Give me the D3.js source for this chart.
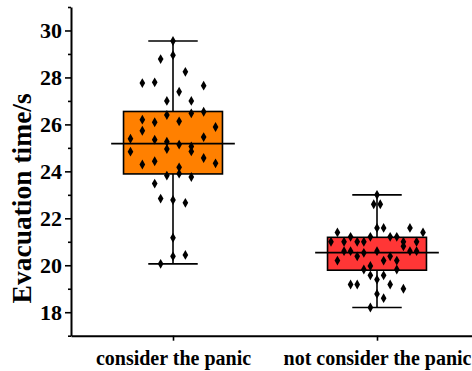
<!DOCTYPE html>
<html>
<head>
<meta charset="utf-8">
<script src="https://cdn.jsdelivr.net/npm/d3@7"></script>
<style>
body { margin: 0; background: #fff; }
</style>
</head>
<body>
<div id="chart"></div>
<script>
var categories = ["consider the panic", "not consider the panic"];
var boxColors = ["#FF8000", "#FF3636"];
var whiskerLow = [20.06, 18.2];
var q1 = [23.89, 19.79];
var medians = [25.18, 20.54];
var q3 = [26.55, 21.19];
var whiskerHigh = [29.55, 23.0];

// raw points, jitter = horizontal offset as a fraction of the box width
var considerValues = [29.55, 28.95, 28.78, 28.24, 27.76, 27.79, 27.65, 27.39, 27.0, 27.0,
	26.47, 26.54, 26.40, 26.20, 26.09, 26.13, 25.89, 25.73, 25.39, 25.35,
	25.46, 25.26, 25.14, 25.06, 24.85, 24.84, 24.95, 24.29, 24.43, 24.17,
	24.57, 24.34, 23.82, 23.90, 23.76, 23.48, 22.84, 22.78, 22.66, 21.17,
	20.38, 20.44, 20.06];
var considerJitter = [0, 0, -0.125, 0.125, -0.31, -0.185, 0.31, 0.062, -0.062, 0.185,
	0.185, 0.31, -0.062, -0.31, -0.185, 0.062, 0.43, -0.31, -0.43, -0.185,
	0.31, -0.062, 0.062, 0.185, 0.185, -0.43, -0.062, -0.31, -0.185, 0.062,
	0.31, 0.43, -0.062, 0.062, 0.185, -0.185, -0.125, 0, 0.125, 0,
	0, 0.125, -0.125];
var notConsiderValues = [23.0, 22.6, 22.6, 21.59, 21.59, 21.59, 21.40, 21.40, 21.21, 21.21,
	21.21, 21.21, 21.0, 21.0, 21.0, 21.0, 21.0, 21.0, 20.81, 20.6,
	20.6, 20.6, 20.6, 20.6, 20.53, 20.38, 20.38, 20.2, 20.2, 20.2,
	19.97, 19.82, 19.82, 19.57, 19.57, 19.39, 19.18, 19.18, 19.18, 19.0,
	18.78, 18.6, 18.2];
var notConsiderJitter = [0, -0.033, 0.033, 0, 0.067, 0.333, -0.4, 0.465, -0.267, -0.067,
	0.133, 0.2, -0.465, -0.333, -0.2, -0.133, 0.267, 0.4, 0.267, -0.333,
	-0.267, 0, 0.333, 0.4, -0.133, -0.2, 0.133, -0.4, 0.067, 0.2,
	-0.067, -0.133, 0.2, -0.067, 0.067, 0, -0.267, -0.2, 0.133, 0.267,
	0, 0.067, -0.067];
var yMajorTicks = [18, 20, 22, 24, 26, 28, 30];
var yMinorTicks = [17, 19, 21, 23, 25, 27, 29, 31];
var yLabel = "Evacuation time/s";

var width = 472, height = 371;
var svg = d3.select("#chart")
	.append("svg")
	.attr("width", width)
	.attr("height", height);

var x = d3.scalePoint()
	.domain(categories)
	.range([71, 479])
	.padding(0.5);
var y = d3.scaleLinear()
	.domain([17, 31])
	.range([335.7, 7]);
var step = x.step();
var boxW = step * 0.485;

var groups = [
	{ cat: categories[0], values: considerValues, jitter: considerJitter },
	{ cat: categories[1], values: notConsiderValues, jitter: notConsiderJitter }
];

// axes
var font = "Liberation Serif";
var yMinor = svg.append("g")
	.attr("transform", "translate(71,0)")
	.call(d3.axisLeft(y).tickValues(yMinorTicks).tickSize(3).tickSizeOuter(0).tickFormat(""));
yMinor.select(".domain").remove();
var yAxis = svg.append("g")
	.attr("transform", "translate(71,0)")
	.call(d3.axisLeft(y).tickValues(yMajorTicks).tickSize(6).tickSizeOuter(0).tickPadding(3))
	.attr("font-family", font)
	.attr("font-weight", "bold")
	.attr("font-size", 22);
var xAxis = svg.append("g")
	.attr("transform", "translate(0,335.7)")
	.call(d3.axisBottom(x).tickSize(5).tickSizeOuter(0).tickPadding(10))
	.attr("font-family", font)
	.attr("font-weight", "bold")
	.attr("font-size", 20);
svg.selectAll(".domain").attr("stroke-width", 2);
svg.selectAll(".tick line").attr("stroke-width", 1.6);
svg.selectAll(".tick text").attr("fill", "#000");

svg.append("text")
	.attr("transform", "translate(31," + y(22.85) + ") rotate(-90)")
	.attr("text-anchor", "middle")
	.attr("font-family", font)
	.attr("font-weight", "bold")
	.attr("font-size", 27.5)
	.text(yLabel);

// boxes
var box = svg.append("g")
	.selectAll("g")
	.data(groups)
	.enter()
	.append("g");

box.append("line")
	.attr("x1", function(d) { return x(d.cat); })
	.attr("x2", function(d) { return x(d.cat); })
	.attr("y1", function(d, i) { return y(whiskerLow[i]); })
	.attr("y2", function(d, i) { return y(whiskerHigh[i]); })
	.attr("stroke", "#000")
	.attr("stroke-width", 1.6);
box.append("line")
	.attr("x1", function(d) { return x(d.cat) - boxW / 4; })
	.attr("x2", function(d) { return x(d.cat) + boxW / 4; })
	.attr("y1", function(d, i) { return y(whiskerHigh[i]); })
	.attr("y2", function(d, i) { return y(whiskerHigh[i]); })
	.attr("stroke", "#000")
	.attr("stroke-width", 1.6);
box.append("line")
	.attr("x1", function(d) { return x(d.cat) - boxW / 4; })
	.attr("x2", function(d) { return x(d.cat) + boxW / 4; })
	.attr("y1", function(d, i) { return y(whiskerLow[i]); })
	.attr("y2", function(d, i) { return y(whiskerLow[i]); })
	.attr("stroke", "#000")
	.attr("stroke-width", 1.6);
box.append("rect")
	.attr("x", function(d) { return x(d.cat) - boxW / 2; })
	.attr("y", function(d, i) { return y(q3[i]); })
	.attr("width", boxW)
	.attr("height", function(d, i) { return y(q1[i]) - y(q3[i]); })
	.attr("fill", function(d, i) { return boxColors[i]; })
	.attr("stroke", "#000")
	.attr("stroke-width", 1.6);
box.append("line")
	.attr("x1", function(d) { return x(d.cat) - boxW * 0.625; })
	.attr("x2", function(d) { return x(d.cat) + boxW * 0.625; })
	.attr("y1", function(d, i) { return y(medians[i]); })
	.attr("y2", function(d, i) { return y(medians[i]); })
	.attr("stroke", "#000")
	.attr("stroke-width", 1.6);

var diamond = d3.symbol().type(d3.symbolDiamond).size(28);
box.selectAll("path.pt")
	.data(function(d) { return d.values.map(function(v, k) { return { cat: d.cat, v: v, j: d.jitter[k] }; }); })
	.enter()
	.append("path")
	.attr("class", "pt")
	.attr("d", diamond)
	.attr("transform", function(d) { return "translate(" + (x(d.cat) + d.j * boxW) + "," + y(d.v) + ")"; })
	.attr("fill", "#000");
</script>
</body>
</html>
